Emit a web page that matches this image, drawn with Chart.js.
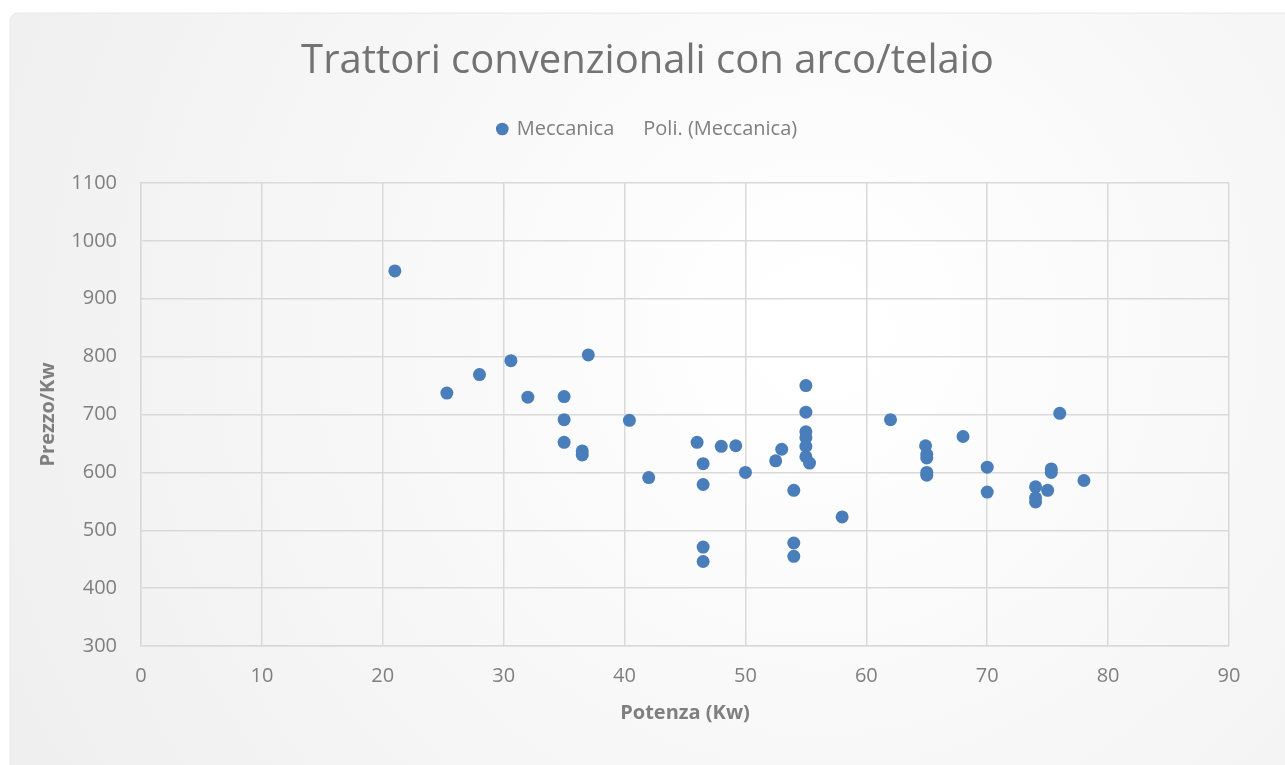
<!DOCTYPE html>
<html>
<head>
<meta charset="utf-8">
<script src="https://cdn.jsdelivr.net/npm/chart.js@4"></script>
<style>
  html, body { margin: 0; padding: 0; background: #ffffff; }
  #wrap { width: 1285px; height: 765px; }
</style>
</head>
<body>
<div id="wrap"><canvas id="myChart" width="1285" height="765"></canvas></div>
<script>
// values
const potenza = [21, 25.3, 28, 30.6, 32, 35, 35, 35, 36.5, 36.5, 37, 40.4, 42, 46, 46.5, 46.5, 46.5, 46.5,
  48, 49.2, 50, 52.5, 53, 54, 54, 54, 55, 55, 55, 55, 55, 55, 55.3, 58, 62, 64.9, 65, 65, 65, 65,
  68, 70, 70, 74, 74, 74, 75, 75.3, 75.3, 76, 78];
const prezzo = [948, 737, 769, 793, 730, 731, 691, 652, 637, 630, 803, 690, 591, 652, 615, 579, 471, 446,
  645, 646, 600, 620, 640, 569, 478, 455, 750, 704, 670, 660, 645, 627, 616, 523, 691, 646, 631, 625, 600, 595,
  662, 609, 566, 575, 556, 549, 569, 606, 600, 702, 586];

const xTicks = [0, 10, 20, 30, 40, 50, 60, 70, 80, 90];
const yTicks = [300, 400, 500, 600, 700, 800, 900, 1000, 1100];

const seriesNames = ["Meccanica", "Poli. (Meccanica)"];

const points = potenza.map((x, i) => ({ x: x, y: prezzo[i] }));

const textGrey = "#7f7f7f";
const gridGrey = "#d9d9d9";

// background of the chart box (soft gradient, rounded corner)
const bgPlugin = {
  id: "bgPlugin",
  beforeDraw(chart) {
    const c = chart.ctx;
    c.save();
    c.fillStyle = "#ffffff";
    c.fillRect(0, 0, chart.width, chart.height);
    const g = c.createRadialGradient(820, 330, 50, 820, 330, 900);
    g.addColorStop(0, "#ffffff");
    g.addColorStop(1, "#efefef");
    c.fillStyle = g;
    c.beginPath();
    c.roundRect(10, 13, chart.width, chart.height, 8);
    c.fill();
    c.strokeStyle = "#e8e8e8";
    c.lineWidth = 1;
    c.stroke();
    c.restore();
  }
};

// extra space below the legend
const legendGap = {
  id: "legendGap",
  beforeInit(chart) {
    const fit = chart.legend.fit;
    chart.legend.fit = function () {
      fit.bind(chart.legend)();
      this.height += 34;
    };
  }
};

const ctx = document.getElementById("myChart");

new Chart(ctx, {
  type: "scatter",
  data: {
    datasets: [
      {
        label: seriesNames[0],
        data: points,
        backgroundColor: "#4a7ebb",
        borderColor: "#4a7ebb",
        borderWidth: 0,
        pointRadius: 6.5,
        pointHoverRadius: 6.5,
        pointStyle: "circle"
      },
      {
        label: seriesNames[1],
        data: [],
        backgroundColor: "rgba(0,0,0,0)",
        borderColor: "rgba(0,0,0,0)",
        pointStyle: "line"
      }
    ]
  },
  options: {
    responsive: false,
    animation: false,
    events: [],
    layout: {
      padding: { top: 38, left: 10, right: 0, bottom: 20 }
    },
    scales: {
      x: {
        type: "linear",
        min: xTicks[0],
        max: xTicks[xTicks.length - 1],
        afterBuildTicks: (axis) => { axis.ticks = xTicks.map(v => ({ value: v })); },
        afterFit: (axis) => { axis.height = 99; },
        grid: { color: gridGrey, lineWidth: 1.5, drawTicks: false },
        border: { color: gridGrey, width: 1.5 },
        ticks: {
          color: textGrey,
          padding: 18,
          font: { family: "'Open Sans'", size: 20 }
        },
        title: {
          display: true,
          text: "Potenza (Kw)",
          color: textGrey,
          padding: { top: 0, bottom: 20 },
          font: { family: "'Open Sans'", size: 20, weight: "bold" }
        }
      },
      y: {
        type: "linear",
        min: yTicks[0],
        max: yTicks[yTicks.length - 1],
        afterBuildTicks: (axis) => { axis.ticks = yTicks.map(v => ({ value: v })); },
        afterFit: (axis) => { axis.width = 131; },
        grid: { color: gridGrey, lineWidth: 1.5, drawTicks: false },
        border: { color: gridGrey, width: 1.5 },
        ticks: {
          color: textGrey,
          padding: 24,
          callback: (v) => String(v),
          font: { family: "'Open Sans'", size: 20 }
        },
        title: {
          display: true,
          text: "Prezzo/Kw",
          color: textGrey,
          padding: { top: 26, bottom: 0 },
          font: { family: "'Open Sans'", size: 20, weight: "bold" }
        }
      },
      // empty right-hand strip so that the title is centred on the whole box
      spacer: {
        type: "linear",
        position: "right",
        display: true,
        afterFit: (axis) => { axis.width = 56; },
        grid: { drawOnChartArea: false, drawTicks: false, display: false },
        border: { display: false },
        ticks: { display: false }
      }
    },
    plugins: {
      tooltip: { enabled: false },
      title: {
        display: true,
        text: "Trattori convenzionali con arco/telaio",
        color: "#737373",
        padding: { top: 0, bottom: 23 },
        font: { family: "'Open Sans'", size: 40, weight: "normal" }
      },
      legend: {
        display: true,
        position: "top",
        labels: {
          usePointStyle: true,
          boxWidth: 9,
          boxHeight: 9,
          padding: 10,
          color: textGrey,
          font: { family: "'Open Sans'", size: 20 }
        }
      }
    }
  },
  plugins: [bgPlugin, legendGap]
});
</script>
</body>
</html>
